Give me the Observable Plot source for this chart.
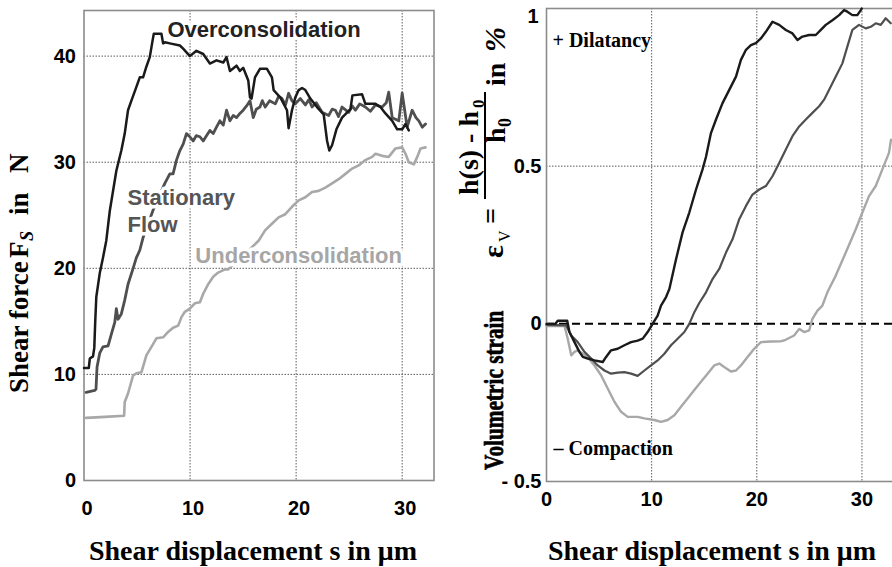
<!DOCTYPE html>
<html>
<head>
<meta charset="utf-8">
<script src="https://cdn.jsdelivr.net/npm/d3@7"></script>
<script src="https://cdn.jsdelivr.net/npm/@observablehq/plot@0.6"></script>
<style>
  html, body { margin: 0; padding: 0; background: #fff; overflow: hidden; }
  #wrap { position: relative; width: 892px; height: 567px; overflow: hidden; background: #fff; }
  #left { position: absolute; left: 0; top: 0; width: 445px; height: 567px; }
  #right { position: absolute; left: 445px; top: 0; width: 460px; height: 567px; }
  #left svg, #right svg { max-width: none !important; display: block; }
  #titles { position: absolute; left: 0; top: 0; pointer-events: none; }
</style>
</head>
<body>
<div id="wrap">
  <div id="left"></div>
  <div id="right"></div>
  <svg id="titles" width="892" height="567"></svg>
</div>
<script>
// ---------- data: left panel (shear displacement s [µm], shear force F_S [N]) ----------
const shearOver = [[0,10.6],[0.45,10.6],[0.55,11.5],[0.85,11.7],[0.97,12.5],[1.06,15.0],[1.16,17.3],[1.48,19.5],[1.79,21.0],[2.1,22.6],[2.43,25.4],[3.05,29.2],[3.52,31.1],[3.84,32.7],[4.15,34.9],[4.47,35.8],[4.94,37.1],[5.26,38.0],[5.57,38.0],[5.88,39.0],[6.2,39.9],[6.42,41.2],[6.58,42.1],[7.3,42.1],[7.46,41.2],[7.62,41.3],[8.09,41.2],[9.04,41.0],[9.35,40.7],[9.98,40.0],[10.6,40.5],[11.24,40.2],[11.87,39.3],[12.49,39.6],[13.13,39.4],[13.44,39.9],[13.76,38.6],[14.38,39.1],[14.7,38.6],[15.01,38.9],[15.49,37.7],[15.65,36.1],[15.8,36.0],[16.12,38.0],[16.59,38.8],[17.25,38.8],[17.72,38.0],[17.88,36.8],[18.51,36.1],[19.14,34.9],[19.29,33.2],[19.61,34.9],[19.92,36.1],[20.24,36.8],[20.56,37.0],[20.87,36.8],[21.34,36.0],[21.97,35.2],[22.6,34.5],[22.92,32.0],[23.13,31.1],[23.39,31.6],[23.8,33.1],[24.33,34.2],[25.12,35.0],[25.31,36.3],[26.22,36.4],[26.53,35.5],[27.48,35.5],[27.95,35.2],[28.42,34.6],[29.06,33.9],[29.53,33.1],[30.0,33.1],[30.31,33.6],[30.62,33.0]];
const shearStationary = [[0.2,8.3],[1.01,8.5],[1.13,8.6],[1.23,10.7],[1.48,12.0],[1.79,12.6],[2.27,12.7],[2.58,13.8],[2.9,14.9],[3.05,16.2],[3.21,15.2],[3.52,15.7],[3.84,17.0],[4.15,18.5],[4.63,20.0],[4.94,21.0],[5.26,21.7],[5.57,22.9],[6.52,25.5],[7.62,28.0],[8.09,28.9],[8.4,28.9],[8.72,30.2],[9.04,31.1],[9.35,31.7],[9.66,32.7],[9.98,32.4],[10.29,32.0],[10.58,32.5],[10.93,32.4],[11.24,32.0],[11.55,32.5],[11.87,33.0],[12.18,32.7],[12.49,33.3],[12.81,33.9],[13.13,33.5],[13.44,34.9],[13.76,33.9],[14.07,34.4],[14.38,34.2],[14.7,34.6],[15.01,34.9],[15.33,35.3],[15.65,35.8],[15.96,34.2],[16.24,35.0],[16.59,35.2],[16.81,35.8],[17.09,35.2],[17.5,35.8],[18.04,35.5],[18.35,36.2],[18.67,36.0],[19.0,35.4],[19.29,36.5],[19.6,35.8],[19.92,35.5],[20.4,36.0],[20.87,35.4],[21.2,35.9],[21.5,35.2],[21.9,35.6],[22.45,34.7],[23.07,34.4],[23.4,35.0],[23.7,34.9],[24.0,34.3],[24.33,35.2],[24.96,34.7],[25.3,35.3],[25.59,34.9],[26.0,35.5],[26.53,35.2],[27.0,34.8],[27.48,35.4],[28.11,35.2],[28.5,35.6],[28.73,36.6],[29.06,34.2],[29.68,33.9],[30.0,36.5],[30.47,33.3],[30.94,34.9],[31.3,34.2],[31.57,33.9],[31.89,33.3],[32.2,33.6]];
const shearUnder = [[0.2,5.9],[1.98,6.0],[3.78,6.1],[3.84,7.4],[4.15,8.2],[4.63,9.9],[4.94,10.1],[5.41,10.2],[5.88,11.8],[6.36,12.6],[6.83,13.4],[7.46,13.5],[7.93,14.0],[8.4,14.4],[8.88,14.6],[9.19,15.4],[9.51,15.9],[9.98,16.2],[10.45,16.7],[10.93,16.8],[11.24,17.6],[11.71,18.5],[12.18,19.2],[12.65,19.6],[13.29,19.9],[13.6,19.9],[15.01,21.2],[16.46,22.6],[17.09,23.6],[17.72,24.2],[18.35,24.8],[18.98,25.1],[19.61,25.8],[20.24,26.4],[20.87,26.7],[21.5,27.2],[22.12,27.3],[22.76,27.6],[23.39,28.0],[24.01,28.4],[24.65,28.9],[25.28,29.4],[25.9,29.7],[26.53,30.2],[27.17,30.5],[27.48,30.8],[28.11,30.6],[28.73,30.5],[29.37,31.3],[30.0,31.4],[30.31,30.8],[30.62,30.0],[31.1,29.8],[31.42,30.5],[31.73,31.3],[32.2,31.4]];

// ---------- data: right panel (shear displacement s [µm], volumetric strain [%]) ----------
const strainOver = [[0,0.0],[0.85,0.0],[1.07,0.01],[1.97,0.01],[2.18,-0.026],[2.66,-0.058],[3.13,-0.089],[3.45,-0.105],[3.92,-0.11],[4.56,-0.116],[5.35,-0.121],[5.67,-0.105],[6.14,-0.084],[6.77,-0.079],[7.41,-0.068],[8.04,-0.058],[8.67,-0.053],[9.15,-0.047],[9.62,-0.026],[10.09,0.0],[10.57,0.026],[10.89,0.058],[11.37,0.085],[11.68,0.11],[12.32,0.205],[12.94,0.29],[13.58,0.353],[14.22,0.426],[14.84,0.49],[15.17,0.53],[15.64,0.605],[16.12,0.648],[16.74,0.70],[17.38,0.742],[18.02,0.784],[18.49,0.837],[18.97,0.869],[19.44,0.884],[19.91,0.89],[20.39,0.905],[20.86,0.926],[21.49,0.958],[22.13,0.948],[22.76,0.932],[23.39,0.921],[23.87,0.90],[24.34,0.911],[24.98,0.916],[25.61,0.916],[26.09,0.932],[26.56,0.948],[27.19,0.963],[27.83,0.979],[28.3,0.995],[28.61,0.99],[29.09,0.979],[29.56,0.979],[29.89,0.995],[29.98,1.0]];
const strainStationary = [[0,-0.003],[1.87,-0.005],[2.35,-0.037],[2.97,-0.058],[3.61,-0.089],[4.25,-0.11],[4.87,-0.132],[5.51,-0.148],[6.14,-0.158],[6.77,-0.155],[7.41,-0.153],[8.04,-0.158],[8.67,-0.165],[9.31,-0.148],[9.94,-0.132],[10.57,-0.116],[11.21,-0.095],[11.84,-0.068],[12.47,-0.047],[13.11,-0.026],[13.58,0.0],[14.06,0.037],[14.53,0.066],[15.17,0.1],[15.79,0.142],[16.43,0.174],[17.07,0.226],[17.69,0.268],[18.33,0.332],[18.97,0.374],[19.59,0.41],[20.23,0.426],[20.86,0.437],[21.49,0.468],[22.13,0.51],[22.76,0.553],[23.39,0.595],[24.03,0.626],[24.66,0.648],[25.29,0.669],[25.93,0.69],[26.4,0.711],[26.88,0.742],[27.51,0.784],[28.14,0.826],[28.61,0.879],[29.09,0.932],[29.72,0.948],[30.36,0.937],[30.84,0.942],[31.31,0.953],[31.79,0.948],[32.26,0.969],[32.74,0.953]];
const strainUnder = [[0,-0.007],[1.71,-0.007],[2.02,-0.047],[2.35,-0.1],[2.66,-0.089],[2.97,-0.084],[3.45,-0.095],[3.92,-0.105],[4.56,-0.132],[5.19,-0.163],[5.82,-0.205],[6.46,-0.247],[7.09,-0.279],[7.72,-0.295],[8.67,-0.295],[9.31,-0.30],[10.26,-0.305],[10.89,-0.311],[11.52,-0.305],[12.16,-0.29],[12.79,-0.263],[13.42,-0.237],[14.06,-0.21],[14.69,-0.184],[15.32,-0.158],[15.95,-0.132],[16.43,-0.126],[16.9,-0.137],[17.54,-0.151],[18.02,-0.148],[18.49,-0.132],[19.12,-0.105],[19.75,-0.079],[20.39,-0.058],[21.34,-0.056],[22.29,-0.055],[22.6,-0.053],[23.55,-0.037],[24.03,-0.016],[24.5,-0.026],[24.98,-0.021],[25.29,0.016],[25.77,0.042],[26.24,0.058],[26.71,0.1],[27.51,0.153],[28.46,0.226],[29.41,0.3],[30.04,0.353],[30.67,0.405],[31.31,0.437],[31.94,0.49],[32.57,0.542],[32.76,0.584]];

// ---------- ticks and annotation texts ----------
const xTicks = [0, 10, 20, 30];
const forceTicks = [0, 10, 20, 30, 40];
const forceGrid = [10, 20, 30, 40];
const strainTicks = [-0.5, 0, 0.5];
const strainTopTick = [1];
const strainGrid = [0.5];
const strainTickLabels = new Map([[-0.5, "- 0.5"], [0, "0"], [0.5, "0.5"], [1, "1"]]);
const leftNotes = [
  {s: 7.87, v: 42.5, text: "Overconsolidation", color: "#222222"},
  {s: 4.1, v: 26.6, text: "Stationary", color: "#555555"},
  {s: 4.1, v: 24.1, text: "Flow", color: "#555555"},
  {s: 10.5, v: 21.2, text: "Underconsolidation", color: "#a6a6a6"}
];
const rightNotes = [
  {s: 0.57, v: 0.897, text: "+ Dilatancy"},
  {s: 0.67, v: -0.397, text: "\u2013 Compaction"}
];

const SANS = "'Liberation Sans', Arial, Helvetica, sans-serif";
const SERIF = "'Liberation Serif', 'Times New Roman', Times, serif";
const cOver = "#1a1a1a", cStat = "#4f4f4f", cUnder = "#a8a8a8";
const gridStyle = {stroke: "#5a5a5a", strokeOpacity: 1, strokeWidth: 1, strokeDasharray: "1.5,1.5"};

// ---------- left plot ----------
const left = Plot.plot({
  width: 445, height: 567,
  marginLeft: 83.5, marginRight: 11.5, marginTop: 10, marginBottom: 87,
  style: {fontFamily: SANS, color: "#000", background: "transparent"},
  x: {domain: [0, 33]},
  y: {domain: [0, 44.3]},
  marks: [
    Plot.gridX(xTicks.filter(d => d > 0), gridStyle),
    Plot.gridY(forceGrid, gridStyle),
    Plot.frame({stroke: "#8c8c8c", strokeWidth: 1.6}),
    Plot.line(shearUnder, {x: d => d[0], y: d => d[1], stroke: cUnder, strokeWidth: 2.6}),
    Plot.line(shearStationary, {x: d => d[0], y: d => d[1], stroke: cStat, strokeWidth: 2.8}),
    Plot.line(shearOver, {x: d => d[0], y: d => d[1], stroke: cOver, strokeWidth: 2.5}),
    Plot.text(leftNotes, {x: "s", y: "v", text: "text", fill: "color", textAnchor: "start", lineAnchor: "middle",
      fontSize: 22, fontWeight: "bold", fontFamily: SANS, stroke: "white", strokeWidth: 7}),
    Plot.axisX({ticks: xTicks, tickSize: 0, tickPadding: 20, dx: 3, fontSize: 20, fontWeight: "bold", label: null}),
    Plot.axisY({ticks: forceTicks, tickSize: 0, tickPadding: 8, fontSize: 20, fontWeight: "bold", label: null})
  ]
});
left.style.maxWidth = "none";
document.getElementById("left").appendChild(left);

// ---------- right plot ----------
const right = Plot.plot({
  width: 460, height: 567,
  marginLeft: 101, marginRight: 12, marginTop: 8, marginBottom: 86,
  style: {fontFamily: SANS, color: "#000", background: "transparent"},
  x: {domain: [0, 33]},
  y: {domain: [-0.5, 1]},
  marks: [
    Plot.gridX(xTicks.filter(d => d > 0), gridStyle),
    Plot.gridY(strainGrid, gridStyle),
    Plot.ruleY([0], {stroke: "#000", strokeWidth: 2, strokeDasharray: "8,5"}),
    Plot.frame({stroke: "#8c8c8c", strokeWidth: 1.6}),
    Plot.line(strainUnder, {x: d => d[0], y: d => d[1], stroke: cUnder, strokeWidth: 2.4}),
    Plot.line(strainStationary, {x: d => d[0], y: d => d[1], stroke: cStat, strokeWidth: 2.2}),
    Plot.line(strainOver, {x: d => d[0], y: d => d[1], stroke: cOver, strokeWidth: 2.4}),
    Plot.text(rightNotes, {x: "s", y: "v", text: "text", textAnchor: "start", lineAnchor: "middle",
      fontSize: 20, fontWeight: "bold", fontFamily: SERIF, fill: "#000"}),
    Plot.axisX({ticks: xTicks, tickSize: 0, tickPadding: 10, fontSize: 20, fontWeight: "bold", label: null}),
    Plot.axisY({ticks: strainTicks, tickSize: 0, tickPadding: 5, fontSize: 20, fontWeight: "bold", label: null,
      tickFormat: d => strainTickLabels.get(d)}),
    Plot.axisY({ticks: strainTopTick, tickSize: 0, tickPadding: 8, dy: 8, fontSize: 20, fontWeight: "bold", label: null,
      tickFormat: d => strainTickLabels.get(d)})
  ]
});
right.style.maxWidth = "none";
document.getElementById("right").appendChild(right);

// ---------- axis titles (text) ----------
const T = d3.select("#titles");
function txt(parent, u, v, str, size, extra = {}) {
  const t = parent.append("text")
    .attr("x", u).attr("y", v)
    .attr("font-family", SERIF).attr("font-weight", "bold")
    .attr("font-size", size).attr("fill", "#000")
    .text(str);
  for (const [k, val] of Object.entries(extra)) t.attr(k, val);
  return t;
}
// x titles
txt(T, 253, 560, "Shear displacement s in \u03bcm", 28, {"text-anchor": "middle"});
txt(T, 712, 560, "Shear displacement s in \u03bcm", 28, {"text-anchor": "middle"});

// left y title (rotated, reads bottom to top)
const gl = T.append("g").attr("transform", "rotate(-90)");
txt(gl, -393, 28, "Shear force", 27);
txt(gl, -258, 28, "F", 27);
txt(gl, -241, 33, "S", 18, {"font-style": "italic"});
txt(gl, -215, 28, "in", 27);
txt(gl, -173, 28, "N", 27);

// right y title (rotated, reads bottom to top)
const gr = T.append("g").attr("transform", "rotate(-90)");
gr.append("g").attr("transform", "translate(-470,503) scale(0.76,1)")
  .call(g => txt(g, 0, 0, "Volumetric strain", 28, {"stroke": "#000", "stroke-width": 0.7}));
txt(gr, -258, 503, "\u03b5", 30);
txt(gr, -242, 510, "V", 16, {"font-weight": "normal"});
txt(gr, -224, 500, "=", 28);
txt(gr, -195, 478, "h(s) - h", 28);
txt(gr, -108, 484, "0", 17);
txt(gr, -143, 505, "h", 28);
txt(gr, -127, 511, "0", 18);
txt(gr, -86, 505, "in", 28);
txt(gr, -52, 505, "%", 30, {"font-style": "italic"});
T.append("line").attr("x1", 485).attr("x2", 485).attr("y1", 199).attr("y2", 92)
  .attr("stroke", "#000").attr("stroke-width", 2);
</script>
</body>
</html>
